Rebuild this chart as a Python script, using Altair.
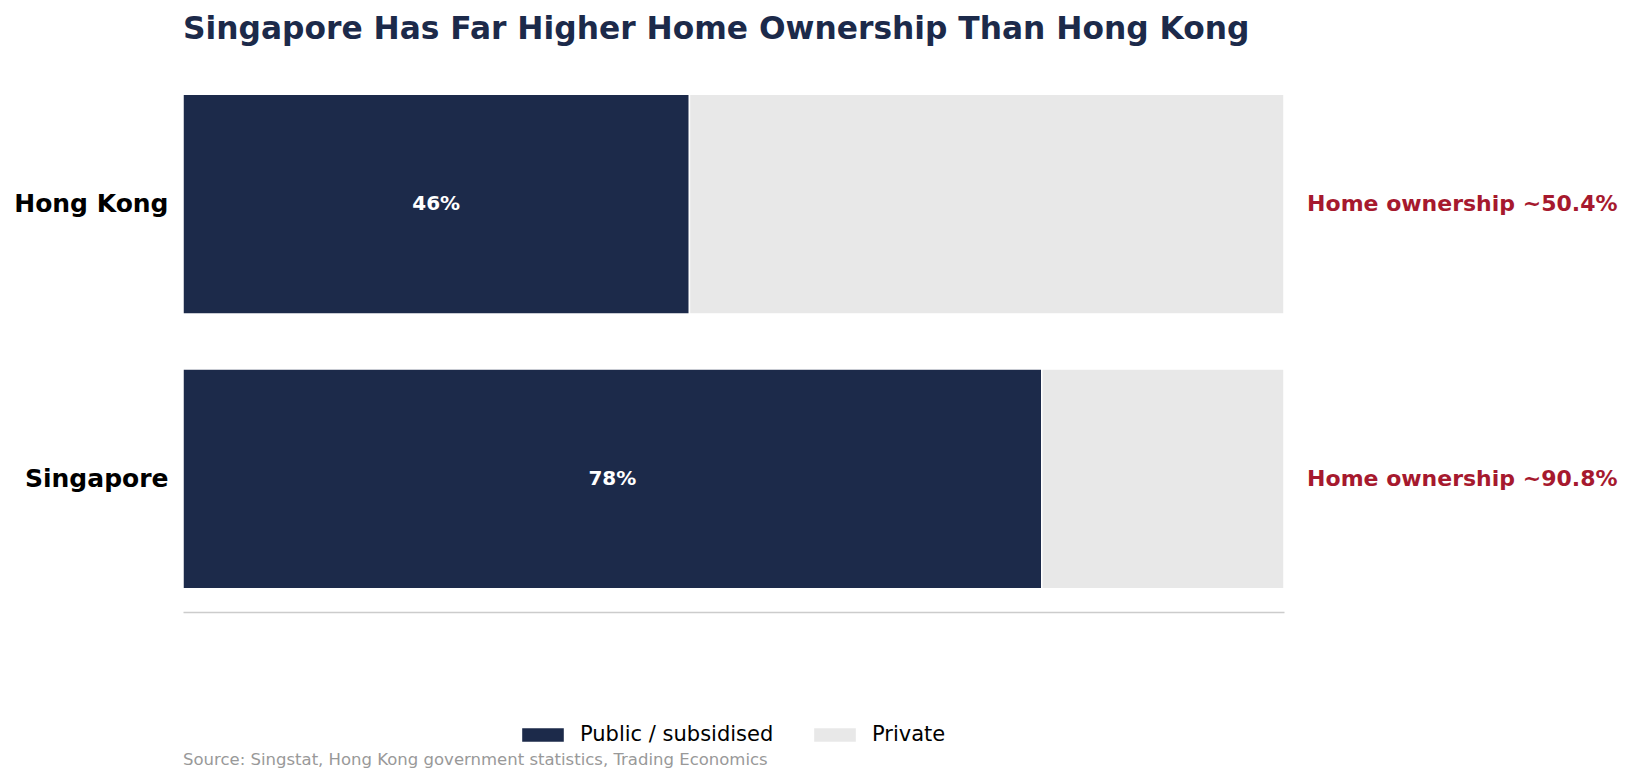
import altair as alt
import pandas as pd

countries = ["Hong Kong", "Singapore"]
public_share = [46, 78]
private_share = [54, 22]
ownership = [50.4, 90.8]
segments = ["Public / subsidised", "Private"]
source_note = "Source: Singstat, Hong Kong government statistics, Trading Economics"

NAVY = "#1c2a4a"
GREY = "#e8e8e8"
RED = "#a6192e"

rows = []
for i, c in enumerate(countries):
    rows.append({"country": c, "segment": segments[0], "value": public_share[i], "rank": 0})
    rows.append({"country": c, "segment": segments[1], "value": private_share[i], "rank": 1})
bars_df = pd.DataFrame(rows)

labels_df = pd.DataFrame({
    "country": countries,
    "public": public_share,
    "label": [f"{v}%" for v in public_share],
    "note": [f"Home ownership ~{v}%" for v in ownership],
})

y_enc = alt.Y(
    "country:N",
    sort=countries,
    title=None,
    scale=alt.Scale(paddingInner=0.2, paddingOuter=0.085),
    axis=alt.Axis(labelFontSize=25, labelFontWeight="bold", labelColor="black",
                  labelPadding=15, domain=False, ticks=False),
)
x_scale = alt.Scale(domain=[0, 100], nice=False, zero=True)

bars = alt.Chart(bars_df).mark_bar(stroke="white", strokeWidth=1.5).encode(
    x=alt.X("value:Q", stack="zero", scale=x_scale, title=None,
            axis=alt.Axis(labels=False, ticks=False, grid=False, domain=True,
                          domainColor="#cccccc", domainWidth=1.5)),
    y=y_enc,
    color=alt.Color(
        "segment:N",
        scale=alt.Scale(domain=segments, range=[NAVY, GREY]),
        legend=alt.Legend(
            title=None, orient="none", direction="horizontal",
            legendX=339, legendY=643,
            symbolType="M-1,-0.325L1,-0.325L1,0.325L-1,0.325Z",
            symbolSize=1730, symbolStrokeWidth=0, symbolOpacity=1,
            labelFontSize=21, labelColor="black", labelOffset=16,
            labelLimit=0, columnPadding=40,
        ),
    ),
    order=alt.Order("rank:Q"),
)

pct = alt.Chart(labels_df).transform_calculate(
    mid="datum.public / 2"
).mark_text(color="white", fontWeight="bold", fontSize=20).encode(
    x=alt.X("mid:Q", scale=x_scale),
    y=alt.Y("country:N", sort=countries),
    text="label:N",
)

notes = alt.Chart(labels_df).transform_calculate(
    pos="102.1"
).mark_text(color=RED, fontWeight="bold", fontSize=22, align="left").encode(
    x=alt.X("pos:Q", scale=x_scale),
    y=alt.Y("country:N", sort=countries),
    text="note:N",
)

source = alt.Chart(pd.DataFrame({"t": [source_note]})).mark_text(
    color="#999999", fontSize=16.5, align="left", baseline="middle"
).encode(
    x=alt.value(0), y=alt.value(689), text="t:N"
)

chart = alt.layer(bars, pct, notes, source).properties(
    width=1101,
    height=541,
    title=alt.TitleParams(
        "Singapore Has Far Higher Home Ownership Than Hong Kong",
        anchor="start", frame="group", fontSize=31.3, fontWeight="bold",
        color=NAVY, offset=26,
    ),
).configure(font="DejaVu Sans").configure_view(stroke=None)

chart.save("out.html", embed_options={"renderer": "svg", "actions": False})
